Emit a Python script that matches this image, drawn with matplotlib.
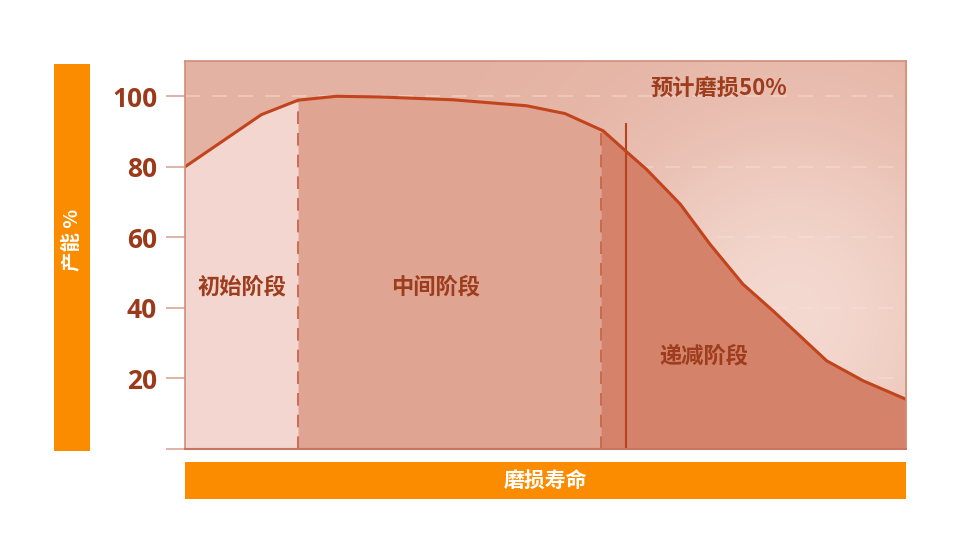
import numpy as np
import matplotlib
matplotlib.use("Agg")
import matplotlib.pyplot as plt
from matplotlib.patches import Rectangle
from matplotlib.colors import to_rgb

# ---- data ----
life = [0, 10.6, 15.7, 21.0, 27.0, 37.2, 47.4, 52.7, 58.0, 61.0, 64.0, 68.7, 72.8, 77.4, 81.6, 89.0, 94.1, 100]
capacity = [80, 94.8, 98.9, 100, 99.8, 99.0, 97.3, 95.1, 90.2, 84.7, 79.3, 69.4, 58.1, 46.7, 39.1, 25.0, 19.3, 14.1]
stage_bounds = [0, 15.7, 57.7, 100]
stage_names = ["初始阶段", "中间阶段", "递减阶段"]
wear50_x = 61.1
wear50_top = 92
yticks = [0, 20, 40, 60, 80, 100]
ytick_labels = ["", "20", "40", "60", "80", "100"]
ylabel = "产能 %"
xlabel = "磨损寿命"
wear_note = "预计磨损50%"

plt.rcParams['font.family'] = ['Noto Sans CJK SC', 'DejaVu Sans']

fig = plt.figure(figsize=(9.8, 5.51), dpi=100)
fig.patch.set_facecolor('white')
ax = fig.add_axes([185/980, 1-449/551, 721/980, 388/551])
ax.set_xlim(0, 100)
ax.set_ylim(0, 110)

# gradient background
nx, ny = 300, 200
gx = np.linspace(0, 100, nx)
gy = np.linspace(0, 110, ny)
X, Y = np.meshgrid(gx, gy)
t = np.exp(-(((X-84)/28)**2 + ((Y-38)/58)**2))
base = np.array(to_rgb('#e4b2a2'))
light = np.array(to_rgb('#f4d9d0'))
img = base[None, None, :]*(1-t[..., None]) + light[None, None, :]*t[..., None]
ax.imshow(img, extent=[0, 100, 0, 110], origin='lower', aspect='auto', zorder=0)

# grid
for yv in yticks[1:]:
    ax.axhline(yv, color='#f7e2da', lw=1.2, dashes=(9, 7), alpha=0.5, zorder=1)

# stage fills
fill_colors = ['#f2d6cf', '#dfa592', '#d4826a']
for i in range(3):
    xs = np.linspace(stage_bounds[i], stage_bounds[i+1], 200)
    ys = np.interp(xs, life, capacity)
    ax.fill_between(xs, 0, ys, color=fill_colors[i], lw=0, zorder=2)

# boundary dashed lines
for b in stage_bounds[1:3]:
    ax.plot([b, b], [0, np.interp(b, life, capacity)], color='#c8654a', lw=1.3,
            dashes=(7, 5), zorder=3)
# 50% wear line
ax.plot([wear50_x, wear50_x], [0, wear50_top], color='#b8431f', lw=1.5, zorder=3)

# curve
ax.plot(life, capacity, color='#c2441c', lw=2.2, zorder=4, solid_joinstyle='round')

# stage labels
txt_color = '#9e3d1d'
ax.text(7.9, 46, stage_names[0], ha='center', va='center', fontsize=16, fontweight='bold', color=txt_color, zorder=5)
ax.text(34.8, 46, stage_names[1], ha='center', va='center', fontsize=16, fontweight='bold', color=txt_color, zorder=5)
ax.text(72.0, 26.3, stage_names[2], ha='center', va='center', fontsize=16, fontweight='bold', color=txt_color, zorder=5)
ax.text(74.0, 102, wear_note, ha='center', va='center', fontsize=16, fontweight='bold', color=txt_color, zorder=5)

# axes styling
ax.set_xticks([])
ax.set_yticks(yticks)
ax.set_yticklabels(ytick_labels, fontsize=19, fontweight='bold', color='#9b3a1a', family=['Open Sans', 'DejaVu Sans'])
ax.tick_params(axis='y', length=14, width=1.3, color='#dcaea0', pad=6)
for s in ['top', 'right', 'left']:
    ax.spines[s].set_color('#d38d78')
    ax.spines[s].set_linewidth(1.2)
ax.spines['bottom'].set_color('#c77660')
ax.spines['bottom'].set_linewidth(1.5)
for s in ax.spines.values():
    s.set_zorder(6)

# orange bars
orange = '#fb8c00'
fig.patches.append(Rectangle((54/980, 1-451/551), 36/980, 387/551, transform=fig.transFigure,
                             facecolor=orange, edgecolor='none', figure=fig))
fig.patches.append(Rectangle((185/980, 1-499/551), 721/980, 37/551, transform=fig.transFigure,
                             facecolor=orange, edgecolor='none', figure=fig))
fig.text(72/980, 1-240/551, ylabel, rotation=90, ha='center', va='center', color='white',
         fontsize=14, fontweight='bold')
fig.text(545/980, 1-481/551, xlabel, ha='center', va='center', color='white',
         fontsize=15, fontweight='bold')

fig.savefig('out.png', dpi=100, facecolor='white')
